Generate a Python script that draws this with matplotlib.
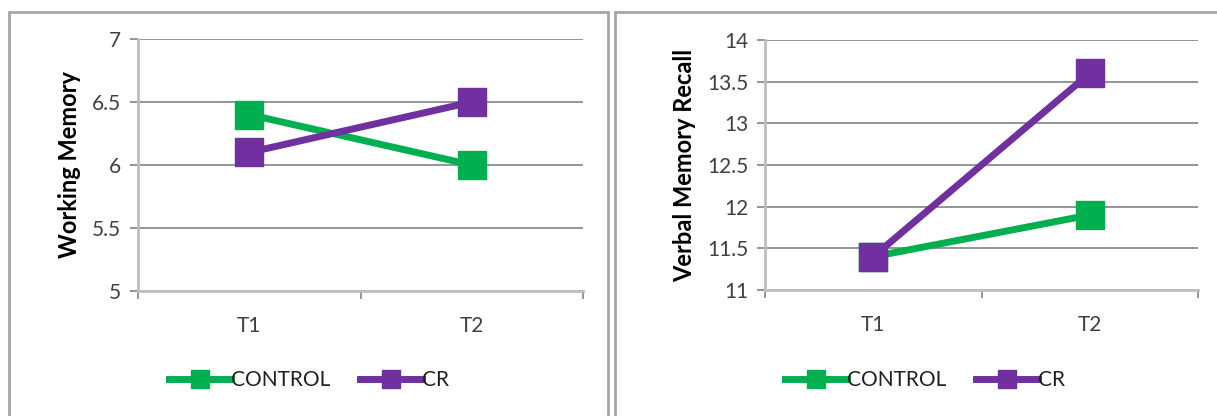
import matplotlib.pyplot as plt
from matplotlib.patches import Rectangle

# data
times = ["T1", "T2"]
wm_control = [6.4, 6.0]
wm_cr = [6.1, 6.5]
vm_control = [11.4, 11.9]
vm_cr = [11.4, 13.6]
series_names = ["CONTROL", "CR"]

GREEN = "#00B050"
PURPLE = "#7030A0"
GRID = "#8C8C8C"
SPINE = "#BFBFBF"

plt.rcParams["font.family"] = ["Lato", "DejaVu Sans"]

W, H = 1217, 416
fig = plt.figure(figsize=(W / 100, H / 100), dpi=100)


def px_axes(x0, x1, ytop, ybot):
    return fig.add_axes([x0 / W, 1 - ybot / H, (x1 - x0) / W, (ybot - ytop) / H])


def draw_panel(ax, control, cr, ylim, yticks, ylabel, legend_cx):
    x = list(range(len(times)))
    ax.plot(x, control, color=GREEN, lw=5, marker="s", ms=20,
            label=series_names[0], zorder=3)
    ax.plot(x, cr, color=PURPLE, lw=5, marker="s", ms=20,
            label=series_names[1], zorder=4)
    ax.set_xlim(-0.5, len(times) - 0.5)
    ax.set_ylim(*ylim)
    ax.set_yticks(yticks)
    ax.set_yticklabels([f"{v:g}" for v in yticks])
    ax.set_xticks(x)
    ax.set_xticklabels(times)
    ax.set_xticks([-0.5, 0.5, 1.5], minor=True)
    ax.yaxis.grid(True, color=GRID, lw=1.3)
    ax.set_axisbelow(True)
    for s in ["top", "right"]:
        ax.spines[s].set_visible(False)
    for s in ["left", "bottom"]:
        ax.spines[s].set_color(SPINE)
        ax.spines[s].set_linewidth(2)
    ax.tick_params(axis="y", length=6, width=1.3, color=GRID,
                   labelsize=15, labelcolor="#404040", pad=6)
    ax.tick_params(axis="x", which="major", length=0, labelsize=15,
                   labelcolor="#404040", pad=18)
    ax.tick_params(axis="x", which="minor", length=6, width=1.3, color=GRID)
    ax.set_ylabel(ylabel, fontsize=17, fontweight="bold", labelpad=8)
    handles, labels = ax.get_legend_handles_labels()
    leg = fig.legend(handles, labels, loc="center",
                     bbox_to_anchor=(legend_cx / W, 1 - 380 / H), ncol=2,
                     frameon=False, fontsize=15, handlelength=3.0,
                     handletextpad=0.0, columnspacing=1.4, markerscale=0.65)
    for t in leg.get_texts():
        t.set_color("#202020")


ax1 = px_axes(138, 583, 39, 291)
draw_panel(ax1, wm_control, wm_cr, (5, 7), [5, 5.5, 6, 6.5, 7],
           "Working Memory", 309)

ax2 = px_axes(765, 1198, 40, 290)
draw_panel(ax2, vm_control, vm_cr, (11, 14), [11, 11.5, 12, 12.5, 13, 13.5, 14],
           "Verbal Memory Recall", 925)

# chart-area borders
for x0, x1 in [(9, 608), (615, 1235)]:
    fig.patches.append(Rectangle((x0 / W, -0.1), (x1 - x0) / W, 1.1 - 12 / H,
                                 transform=fig.transFigure, fill=False,
                                 edgecolor="#A6A6A6", lw=2))

fig.savefig("out.png", dpi=100)
